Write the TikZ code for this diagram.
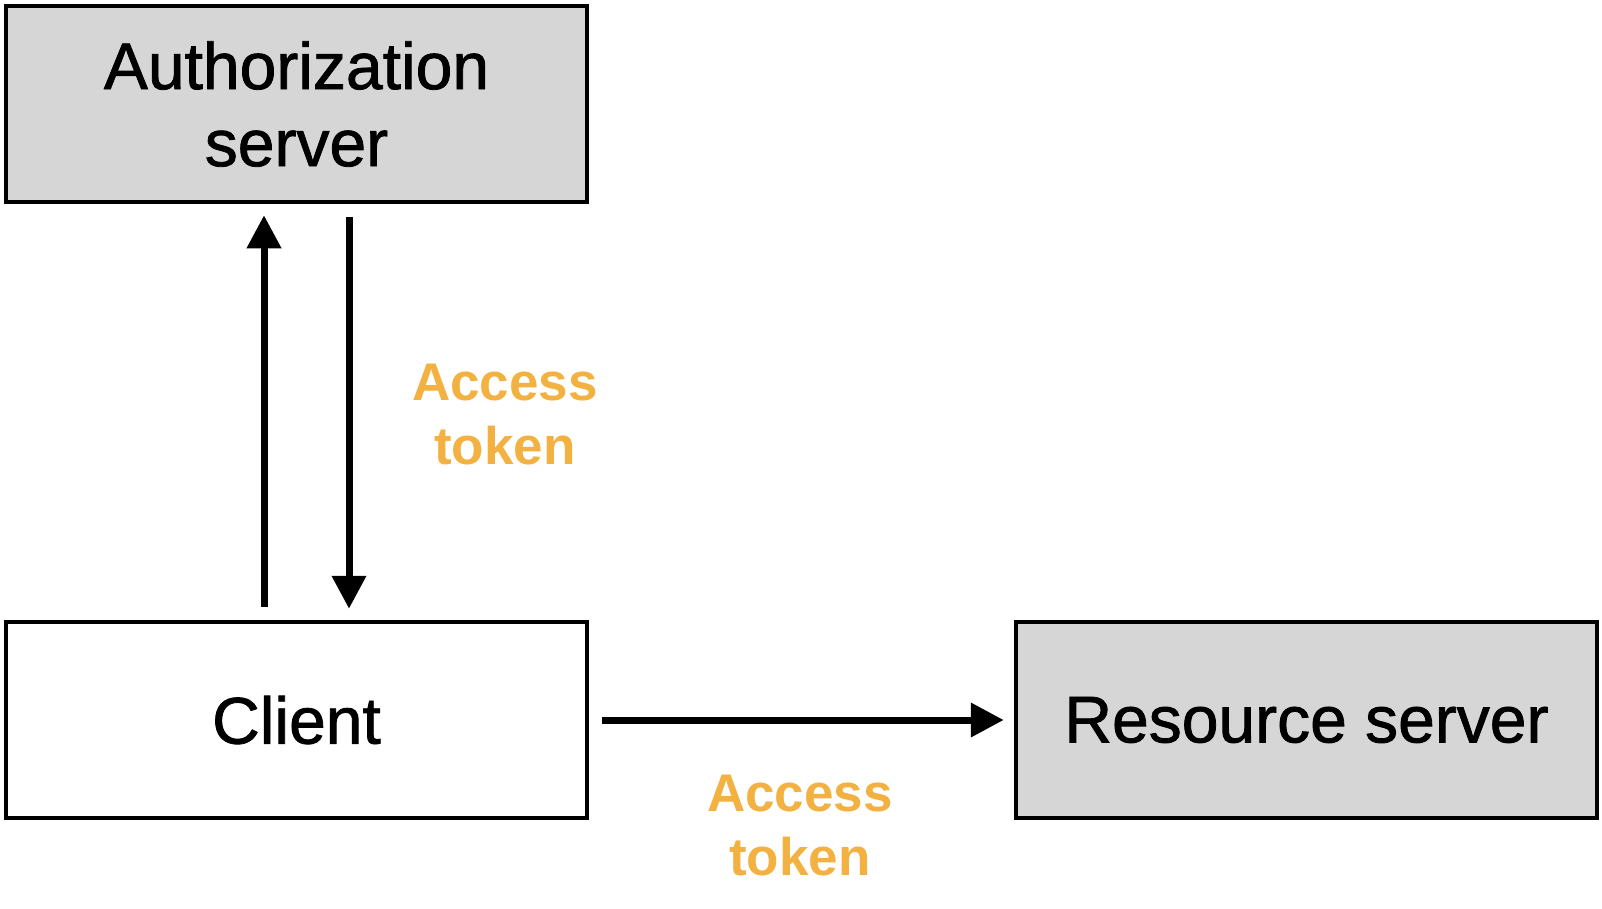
\documentclass[tikz,border=0pt]{standalone}
\usepackage{fontspec}
\setmainfont{Liberation Sans}
\newfontfamily\boxfont[FakeBold=1.2]{Liberation Sans}
\usetikzlibrary{arrows.meta}
\definecolor{tokenorange}{HTML}{F2B141}
\definecolor{boxgray}{HTML}{D6D6D6}

\begin{document}
\begin{tikzpicture}[
  x=1pt,
  y=-1pt,
  box/.style={draw, line width=4.5pt, align=center, inner sep=0pt, minimum width=581pt, minimum height=196pt,
    font=\boxfont\fontsize{66}{77}\selectfont},
  server/.style={box, fill=boxgray},
  client/.style={box, fill=white},
  token/.style={text=tokenorange, align=center, inner sep=0pt, font=\fontsize{53}{64}\selectfont\bfseries},
  arr/.style={-{Triangle[width=33pt,length=33pt]}, line width=7pt}
]
\useasboundingbox (0,0) rectangle (1602,908);

% Boxes
\node[server] (auth)     at ( 296.5, 104) {Authorization\\server};
\node[client] (client)   at ( 296.5, 720) {Client};
\node[server] (resource) at (1306.5, 720) {Resource server};

% Client <-> Authorization server
\draw[arr, shorten <=13pt, shorten >=11pt] ([xshift=-32.5pt]client.north) -- ([xshift=-32.5pt]auth.south);
\draw[arr, shorten <=13pt, shorten >=11pt] ([xshift=52.5pt]auth.south) -- ([xshift=52.5pt]client.north);

% Client -> Resource server
\draw[arr, shorten <=13pt, shorten >=10pt] (client.east) -- (resource.west);

% Labels
\node[token] (tokenAuth)     at (505, 415) {Access\\token};
\node[token] (tokenResource) at (800, 826) {Access\\token};

\end{tikzpicture}
\end{document}
